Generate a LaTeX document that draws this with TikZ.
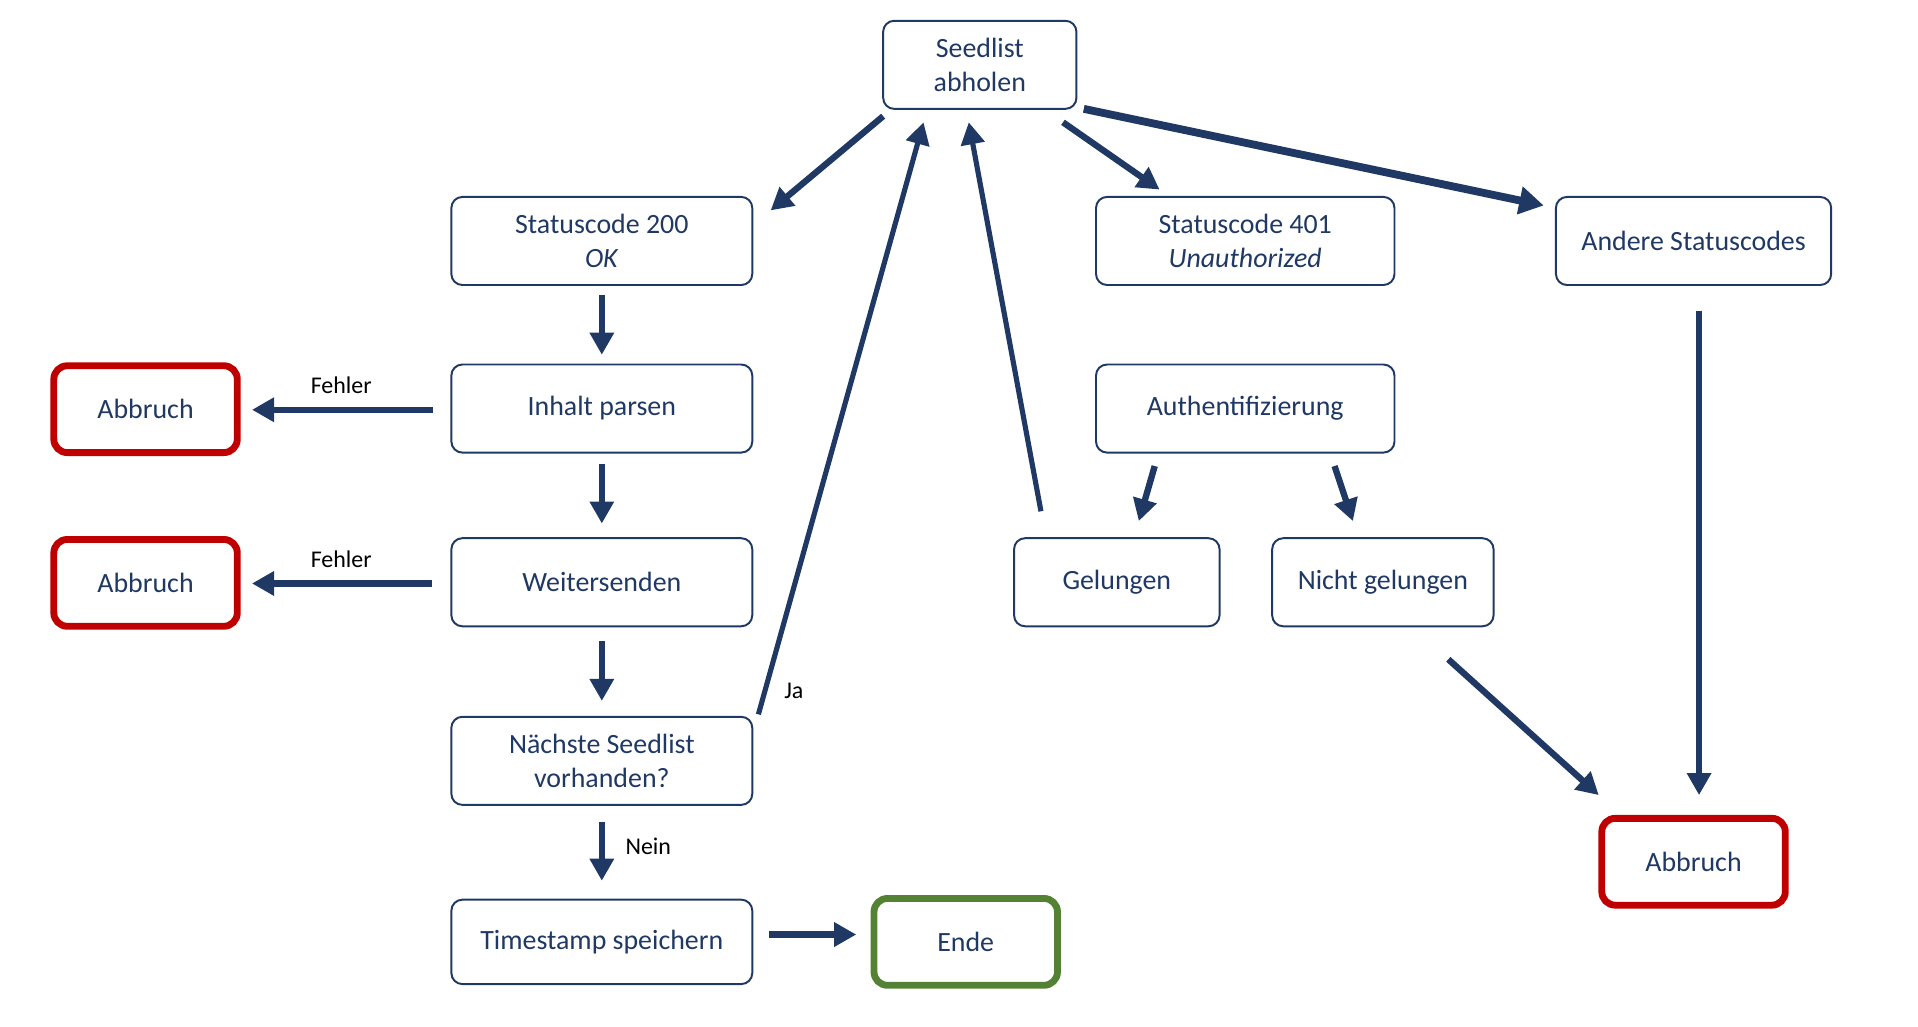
\documentclass[tikz,border=0pt]{standalone}
\usepackage{fontspec}
\setmainfont{Carlito}
\usetikzlibrary{arrows.meta}
\definecolor{navy}{HTML}{1F3864}
\definecolor{abred}{HTML}{C00000}
\definecolor{endgreen}{HTML}{548235}
\begin{document}
\begin{tikzpicture}[x=0.5pt,y=-0.5pt,
 box/.style={draw=navy, line width=0.8pt, rounded corners=4.5pt, align=center, text=navy,
   font=\fontsize{11.4}{14}\selectfont, minimum height=36pt, inner sep=2pt},
 stopbox/.style={box, draw=abred, line width=2.8pt, rounded corners=5.5pt, minimum width=75pt, minimum height=35.5pt},
 endbox/.style={stopbox, draw=endgreen},
 flow/.style={draw=navy, line width=2.6pt, -{Triangle[length=9pt,width=9.5pt]}},
 thinflow/.style={flow, line width=2.1pt},
 thickflow/.style={flow, line width=3.2pt, -{Triangle[length=10pt,width=11pt]}},
 lbl/.style={font=\fontsize{9.8}{11}\selectfont, text=black, inner sep=0pt}]
\useasboundingbox (0,0) rectangle (1568,839);
% nodes
\node[box, minimum width=79pt] (seed) at (801,53) {Seedlist\\abholen};
\node[box, minimum width=123pt] (s200) at (492,197) {Statuscode 200\\\textit{OK}};
\node[box, minimum width=123pt] (inh) at (492,334) {Inhalt parsen};
\node[box, minimum width=123pt] (weiter) at (492,476) {Weitersenden};
\node[box, minimum width=123pt] (next) at (492,622) {Nächste Seedlist\\vorhanden?};
\node[box, minimum width=123pt, minimum height=34.5pt] (ts) at (492,770) {Timestamp speichern};
\node[endbox] (ende) at (789.5,770) {Ende};
\node[stopbox] (ab1) at (119,334.5) {Abbruch};
\node[stopbox] (ab2) at (119,476.5) {Abbruch};
\node[box, minimum width=122pt] (s401) at (1018,197) {Statuscode 401\\\textit{Unauthorized}};
\node[box, minimum width=122pt] (auth) at (1018,334) {Authentifizierung};
\node[box, minimum width=112.5pt] (andere) at (1384.5,197) {Andere Statuscodes};
\node[box, minimum width=84pt] (gel) at (913,476) {Gelungen};
\node[box, minimum width=90.5pt] (nicht) at (1130.5,476) {Nicht gelungen};
\node[stopbox] (ab3) at (1384.5,704.5) {Abbruch};
% connector end points
\coordinate (c1s) at (722,95);   \coordinate (c1e) at (630,172);
\coordinate (c2s) at (869,100);  \coordinate (c2e) at (948,155);
\coordinate (c3s) at (886,89);   \coordinate (c3e) at (1262,168);
\coordinate (c4s) at (492,241);  \coordinate (c4e) at (492,290);
\coordinate (c5s) at (492,379);  \coordinate (c5e) at (492,428);
\coordinate (c6s) at (492,524);  \coordinate (c6e) at (492,573);
\coordinate (c7s) at (492,672);  \coordinate (c7e) at (492,720);
\coordinate (c8s) at (629,764);  \coordinate (c8e) at (700,764);
\coordinate (c9s) at (354,335);  \coordinate (c9e) at (206,335);
\coordinate (c10s) at (353,477); \coordinate (c10e) at (206,477);
\coordinate (c11s) at (620,584); \coordinate (c11e) at (755,100);
\coordinate (c12s) at (851,418); \coordinate (c12e) at (792,100);
\coordinate (c13s) at (944,381); \coordinate (c13e) at (931,426);
\coordinate (c14s) at (1091,381);\coordinate (c14e) at (1106,426);
\coordinate (c15s) at (1184,539);\coordinate (c15e) at (1307,650);
\coordinate (c16s) at (1389,254);\coordinate (c16e) at (1389,650);
% connectors
\draw[flow] (c1s) -- (c1e);
\draw[flow] (c2s) -- (c2e);
\draw[thickflow] (c3s) -- (c3e);
\draw[flow] (c4s) -- (c4e);
\draw[flow] (c5s) -- (c5e);
\draw[flow] (c6s) -- (c6e);
\draw[flow] (c7s) -- (c7e);
\draw[flow] (c8s) -- (c8e);
\draw[flow] (c9s) -- (c9e);
\draw[flow] (c10s) -- (c10e);
\draw[thinflow] (c11s) -- (c11e);
\draw[thinflow] (c12s) -- (c12e);
\draw[flow] (c13s) -- (c13e);
\draw[flow] (c14s) -- (c14e);
\draw[flow] (c15s) -- (c15e);
\draw[flow] (c16s) -- (c16e);
% labels
\node[lbl] (lf1) at (279,315) {Fehler};
\node[lbl] (lf2) at (279,457) {Fehler};
\node[lbl] (lja) at (649,565) {Ja};
\node[lbl] (lnein) at (530,692) {Nein};
\end{tikzpicture}
\end{document}
